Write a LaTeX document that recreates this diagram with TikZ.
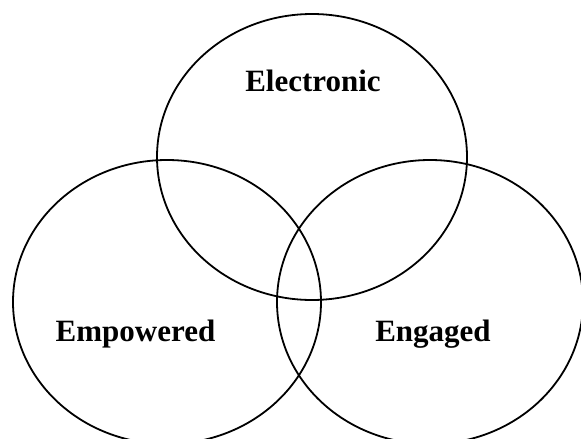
\documentclass[tikz,border=0pt]{standalone}
\usepackage{fontspec}
\setmainfont{Liberation Serif}
\begin{document}
\begin{tikzpicture}[x=1pt,y=-1pt,
  ring/.style={draw=black,line width=1.8pt},
  lbl/.style={font=\fontsize{31}{35}\selectfont\bfseries,anchor=base,inner sep=0pt}]
\useasboundingbox (0,0) rectangle (581,439);
\clip (0,0) rectangle (581,439);
\draw[ring] (312,157) ellipse [x radius=155, y radius=143];
\draw[ring] (167,302) ellipse [x radius=154, y radius=142];
\draw[ring] (430,302) ellipse [x radius=153, y radius=142];
\node[lbl] (electronic) at (313,91) {Electronic};
\node[lbl] (empowered) at (135.5,341) {Empowered};
\node[lbl] (engaged) at (433,341) {Engaged};
\end{tikzpicture}
\end{document}
